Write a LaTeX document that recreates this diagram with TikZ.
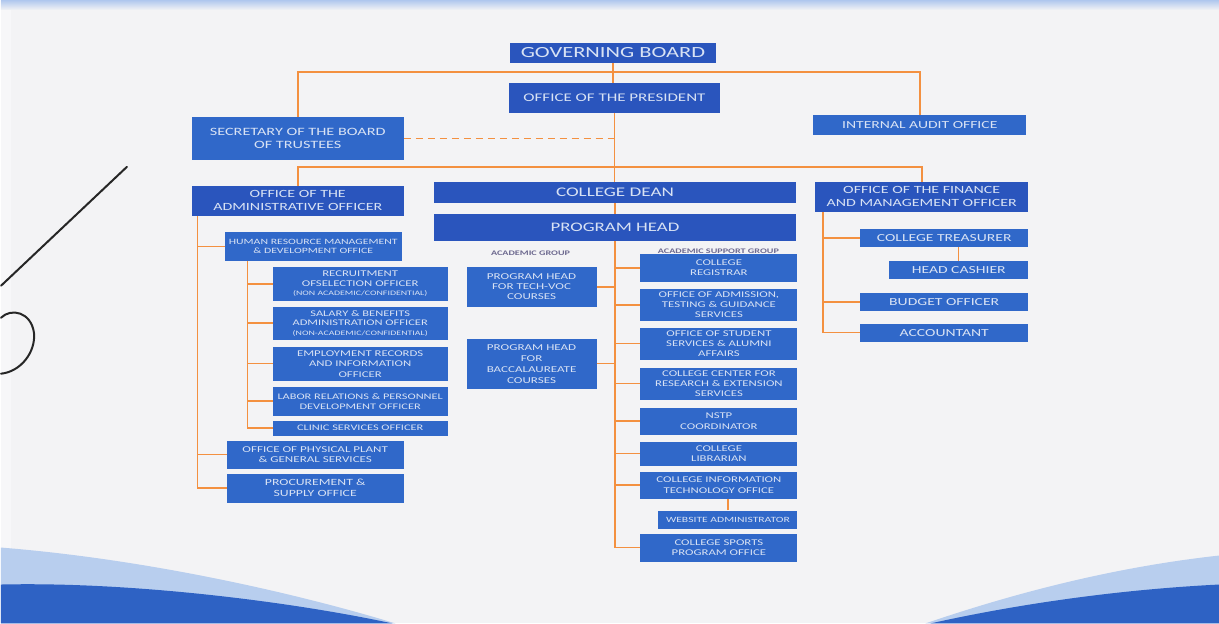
\documentclass[tikz,border=0pt]{standalone}
\usepackage{fontspec}
\setmainfont{Carlito}[FakeStretch=1.45]
\usetikzlibrary{calc}
\definecolor{paper}{HTML}{F3F3F5}
\definecolor{boxdark}{HTML}{2A55BD}
\definecolor{boxlight}{HTML}{3068C9}
\definecolor{boxtxt}{HTML}{D8E2F4}
\definecolor{lineor}{HTML}{F39040}
\definecolor{grp}{HTML}{6E6A90}
\definecolor{wavelight}{HTML}{B8CEEE}
\definecolor{wavedark}{HTML}{2E62C4}
\definecolor{bandtop}{HTML}{AFC7EE}
\newcommand{\fsz}[2]{\fontsize{#1}{#2}\selectfont}
\newcommand{\bx}[7]{\node[#6, minimum width={(#4-#2)*1pt}, minimum height={(#5-#3)*1pt}] (#1) at ({(#2+#4)/2},{(#3+#5)/2}) {#7};}
\tikzset{
  dbox/.style={fill=boxdark, text=boxtxt, inner sep=0pt, align=center},
  lbox/.style={fill=boxlight, text=boxtxt, inner sep=0pt, align=center},
  conn/.style={draw=lineor, line width=1.5pt},
  grouplabel/.style={text=grp, font=\bfseries\fsz{7}{8}, inner sep=0pt},
  pen/.style={draw=black!85, line width=2pt, line cap=round, line join=round}
}
\begin{document}
\begin{tikzpicture}[x=1pt,y=-1pt]
% background
\fill[paper] (0,0) rectangle (1219,624);
\fill[white!35!paper] (0,0) rectangle (10,624);
\shade[top color=bandtop, bottom color=paper] (0,0) rectangle (1219,10);
% bottom waves
\fill[wavelight] (0,548) .. controls (150,560) and (300,595) .. (395,624) -- (0,624) -- cycle;
\fill[wavedark] (0,585) .. controls (130,582) and (290,602) .. (392,624) -- (0,624) -- cycle;
\fill[wavelight] (925,624) .. controls (1010,595) and (1110,568) .. (1219,556) -- (1219,624) -- cycle;
\fill[wavedark] (930,624) .. controls (1020,604) and (1120,590) .. (1219,585) -- (1219,624) -- cycle;
% hand-drawn marks
\draw[pen] (126,167) -- (0,286);
\draw[pen] (0,318) .. controls (10,308) and (30,312) .. (33,333) .. controls (35,352) and (20,372) .. (0,374);

% top level
\bx{gb}{509}{43}{716}{63}{dbox,font=\fsz{15.5}{18}}{GOVERNING BOARD}
\bx{pres}{508}{83}{720}{113}{dbox,font=\fsz{11.7}{14}}{OFFICE OF THE PRESIDENT}
\bx{sec}{191}{117}{403}{160}{lbox,font=\fsz{11.2}{13}}{SECRETARY OF THE BOARD\\OF TRUSTEES}
\bx{audit}{813}{115}{1026}{135}{lbox,font=\fsz{10.8}{13}}{INTERNAL AUDIT OFFICE}
\bx{admin}{191}{186}{403}{216}{dbox,font=\fsz{11}{13}}{OFFICE OF THE\\ADMINISTRATIVE OFFICER}
\bx{dean}{433}{182}{796}{203}{dbox,font=\fsz{13.2}{15}}{COLLEGE DEAN}
\bx{ph}{433}{214}{796}{241}{dbox,font=\fsz{13}{15}}{PROGRAM HEAD}
\bx{fin}{815}{182}{1028}{212}{dbox,font=\fsz{11}{13}}{OFFICE OF THE FINANCE\\AND MANAGEMENT OFFICER}

% finance subtree
\bx{treas}{860}{229}{1028}{247}{lbox,font=\fsz{10.8}{13}}{COLLEGE TREASURER}
\bx{cash}{889}{261}{1028}{279}{lbox,font=\fsz{10.8}{13}}{HEAD CASHIER}
\bx{budget}{860}{293}{1028}{311}{lbox,font=\fsz{10.8}{13}}{BUDGET OFFICER}
\bx{acct}{860}{324}{1028}{342}{lbox,font=\fsz{10.8}{13}}{ACCOUNTANT}

% admin subtree
\bx{hr}{224}{232}{401}{261}{lbox,font=\fsz{8.1}{9.5}}{HUMAN RESOURCE MANAGEMENT\\\& DEVELOPMENT OFFICE}
\bx{recr}{272}{267}{447}{301}{lbox,font=\fsz{8.8}{9.2}}{RECRUITMENT\\OFSELECTION OFFICER\\{\fsz{6.8}{8}(NON ACADEMIC/CONFIDENTIAL)}}
\bx{sal}{272}{307}{447}{340}{lbox,font=\fsz{8.6}{9.4}}{SALARY \& BENEFITS\\ADMINISTRATION OFFICER\\{\fsz{6.8}{8}(NON-ACADEMIC/CONFIDENTIAL)}}
\bx{emp}{272}{347}{447}{381}{lbox,font=\fsz{8.8}{10.5}}{EMPLOYMENT RECORDS\\AND INFORMATION\\OFFICER}
\bx{labor}{272}{387}{447}{416}{lbox,font=\fsz{8.5}{10}}{LABOR RELATIONS \& PERSONNEL\\DEVELOPMENT OFFICER}
\bx{clinic}{272}{421}{447}{436}{lbox,font=\fsz{8.5}{10}}{CLINIC SERVICES OFFICER}
\bx{phys}{226}{441}{403}{469}{lbox,font=\fsz{9}{10.5}}{OFFICE OF PHYSICAL PLANT\\\& GENERAL SERVICES}
\bx{proc}{226}{474}{403}{503}{lbox,font=\fsz{9.5}{11}}{PROCUREMENT \&\\SUPPLY OFFICE}

% academic groups
\node[grouplabel] (agl) at (530,253) {ACADEMIC GROUP};
\node[grouplabel] (asgl) at (718,251) {ACADEMIC SUPPORT GROUP};
\bx{tv}{466}{267}{596}{307}{lbox,font=\fsz{9}{10}}{PROGRAM HEAD\\FOR TECH-VOC\\COURSES}
\bx{bac}{466}{339}{596}{389}{lbox,font=\fsz{9}{11}}{PROGRAM HEAD\\FOR\\BACCALAUREATE\\COURSES}
\bx{reg}{640}{254}{797}{282}{lbox,font=\fsz{8.8}{10.2}}{COLLEGE\\REGISTRAR}
\bx{adm}{640}{289}{797}{321}{lbox,font=\fsz{8.8}{10.2}}{OFFICE OF ADMISSION,\\TESTING \& GUIDANCE\\SERVICES}
\bx{stu}{640}{328}{797}{360}{lbox,font=\fsz{8.8}{10.2}}{OFFICE OF STUDENT\\SERVICES \& ALUMNI\\AFFAIRS}
\bx{res}{640}{368}{797}{400}{lbox,font=\fsz{8.8}{10.2}}{COLLEGE CENTER FOR\\RESEARCH \& EXTENSION\\SERVICES}
\bx{nstp}{640}{408}{797}{435}{lbox,font=\fsz{8.8}{10.2}}{NSTP\\COORDINATOR}
\bx{lib}{640}{442}{797}{466}{lbox,font=\fsz{8.8}{10.2}}{COLLEGE\\LIBRARIAN}
\bx{it}{640}{472}{797}{499}{lbox,font=\fsz{8.8}{10.2}}{COLLEGE INFORMATION\\TECHNOLOGY OFFICE}
\bx{web}{658}{511}{797}{529}{lbox,font=\fsz{8}{10}}{WEBSITE ADMINISTRATOR}
\bx{sports}{640}{534}{797}{562}{lbox,font=\fsz{8.8}{10.2}}{COLLEGE SPORTS\\PROGRAM OFFICE}

% connectors: top
\coordinate (jt) at (614,72);
\coordinate (jm) at (614,167);
\draw[conn] (sec.north) |- (jt) -| (audit.north);
\draw[conn] (gb.south) -- (gb.south |- pres.north);
\draw[conn] (pres.south) -- (pres.south |- dean.north);
\draw[conn, dash pattern=on 7pt off 5pt] (sec.east) -- (sec.east -| pres.south);
\draw[conn] (admin.north) |- (jm) -| (fin.north);
\draw[conn] (dean.south) -- (dean.south |- ph.north);

% admin subtree
\coordinate (a0) at ($(admin.south west)+(6,0)$);
\draw[conn] (a0) |- (proc.west);
\draw[conn] (a0 |- hr.west) -- (hr.west);
\draw[conn] (a0 |- phys.west) -- (phys.west);
\coordinate (h0) at ($(hr.south west)+(23,0)$);
\draw[conn] (h0) |- (clinic.west);
\foreach \n in {recr,sal,emp,labor} \draw[conn] (h0 |- \n.west) -- (\n.west);

% finance subtree
\coordinate (f0) at ($(fin.south west)+(8,0)$);
\draw[conn] (f0) |- (acct.west);
\foreach \n in {treas,budget} \draw[conn] (f0 |- \n.west) -- (\n.west);
\draw[conn] (cash.north |- treas.south) -- (cash.north);

% academic column
\coordinate (c0) at (ph.south);
\draw[conn] (c0) |- (sports.west);
\foreach \n in {reg,adm,stu,res,nstp,lib,it} \draw[conn] (c0 |- \n.west) -- (\n.west);
\draw[conn] (tv.east) -- (tv.east -| c0);
\draw[conn] (bac.east) -- (bac.east -| c0);
\draw[conn] (web.north) -- (web.north |- it.south);
\end{tikzpicture}
\end{document}
